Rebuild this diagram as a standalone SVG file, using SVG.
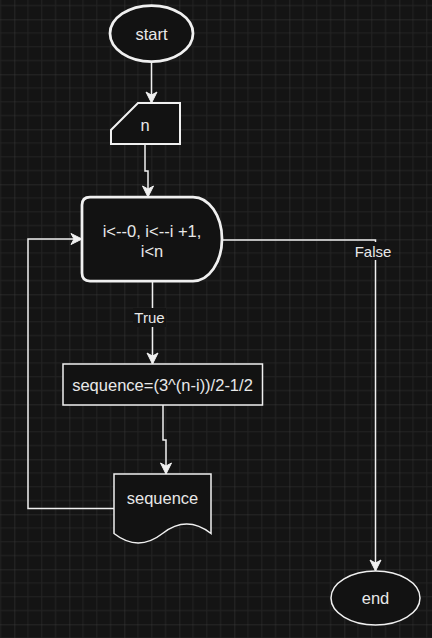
<svg xmlns="http://www.w3.org/2000/svg" width="432" height="638" viewBox="0 0 432 638">
<defs>
<pattern id="grid" x="14.3" y="19.3" width="55" height="55" patternUnits="userSpaceOnUse">
<rect width="55" height="55" fill="#141414"/>
<path d="M13.75,0 V55 M27.5,0 V55 M41.25,0 V55 M0,13.75 H55 M0,27.5 H55 M0,41.25 H55" stroke="#232323" stroke-width="1" fill="none"/>
<path d="M0,0 V55 M0,0 H55" stroke="#3a3a3a" stroke-width="1" fill="none"/>
</pattern>
<marker id="arr" markerUnits="userSpaceOnUse" markerWidth="14" markerHeight="14" viewBox="-1 -7 14 14" refX="11" refY="0" orient="auto">
<path d="M0,-5.5 L11,0 L0,5.5 L3,0 Z" fill="#f0f0f0" stroke="#f0f0f0" stroke-width="1"/>
</marker>
</defs>
<style>
.sh{fill:#121212;stroke:#f0f0f0;}
.t{font-family:"Liberation Sans",Arial,sans-serif;font-size:16.5px;fill:#e8e8e8;text-anchor:middle;dominant-baseline:central;}
.lt{font-family:"Liberation Sans",Arial,sans-serif;font-size:15px;fill:#e8e8e8;text-anchor:middle;dominant-baseline:central;}
.c{fill:none;stroke:#f0f0f0;stroke-width:1.5;}
</style>
<rect width="432" height="638" fill="url(#grid)"/>
<g id="connectors">
<path class="c" d="M151.5,62 V103" marker-end="url(#arr)"/>
<path class="c" d="M145,144 V171 H148 V197" marker-end="url(#arr)"/>
<path class="c" d="M152.5,281 V364" marker-end="url(#arr)"/>
<path class="c" d="M163,405 V440 H166 V474" marker-end="url(#arr)"/>
<path class="c" d="M114,508.5 H28 V239 H82" marker-end="url(#arr)"/>
<path class="c" d="M222,240 H375.5 V571" marker-end="url(#arr)"/>
<rect x="133" y="308" width="33" height="19" fill="#141414"/>
<text class="lt" x="149.5" y="317">True</text>
<rect x="353" y="242" width="40" height="18" fill="#141414"/>
<text class="lt" x="373" y="251">False</text>
</g>
<g id="start">
<ellipse class="sh" cx="151.5" cy="33.5" rx="41.5" ry="28" stroke-width="2.75"/>
<text class="t" x="151.5" y="33.5">start</text>
</g>
<g id="input-n">
<path class="sh" d="M138,103 H180 V144 H111 V130 Z" stroke-width="2"/>
<text class="t" x="145" y="125">n</text>
</g>
<g id="loop">
<path class="sh" d="M90,197 H193 A29,42 0 0 1 193,281 H90 Q82,281 82,273 V205 Q82,197 90,197 Z" stroke-width="2.75"/>
<text class="t" x="152" y="231">i&lt;--0, i&lt;--i +1,</text>
<text class="t" x="152" y="251">i&lt;n</text>
</g>
<g id="compute">
<rect class="sh" x="63" y="364" width="199.5" height="41" stroke-width="1.5"/>
<text class="t" x="162.5" y="385">sequence=(3^(n-i))/2-1/2</text>
</g>
<g id="output">
<path class="sh" d="M114,474 H211 V533.5 Q186.75,514.6 162.5,533.5 Q138.25,552.4 114,533.5 Z" stroke-width="1.5"/>
<text class="t" x="162.5" y="498">sequence</text>
</g>
<g id="end">
<ellipse class="sh" cx="375.5" cy="598" rx="44.5" ry="27" stroke-width="1.5"/>
<text class="t" x="375.5" y="598">end</text>
</g>
</svg>
